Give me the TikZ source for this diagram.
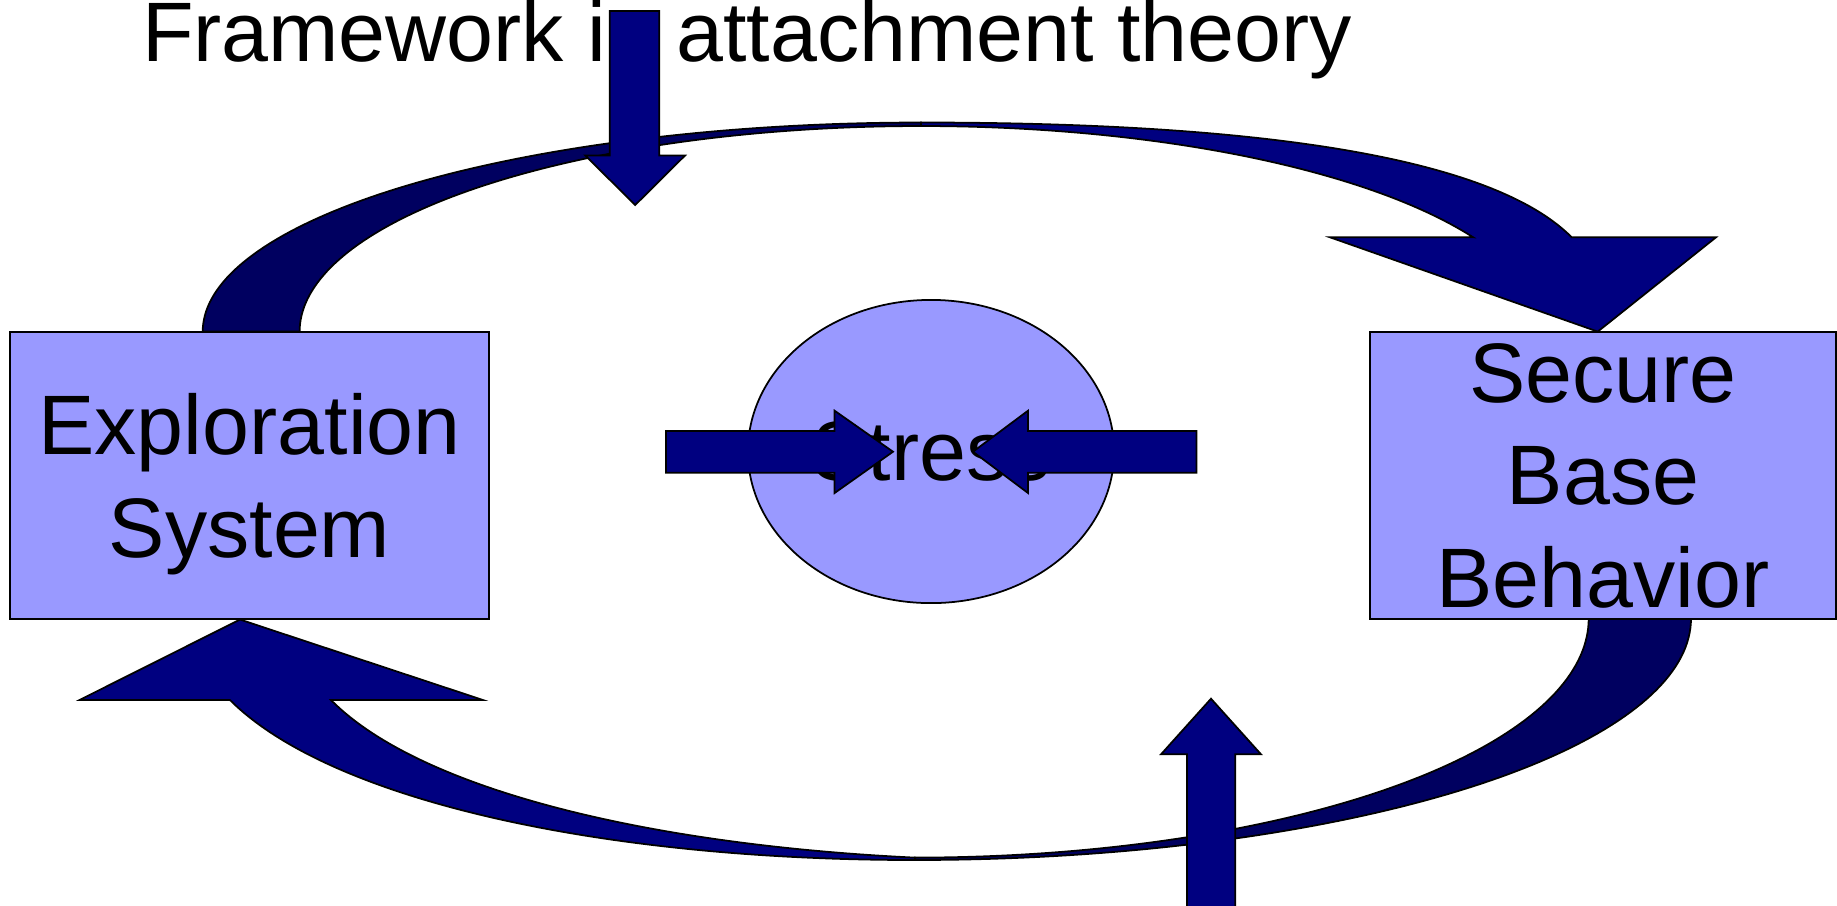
\documentclass[tikz,border=0pt]{standalone}
\usepackage{fontspec}
\setmainfont{Liberation Sans}
\usetikzlibrary{shapes.geometric}
\definecolor{boxfill}{HTML}{9999FF}
\definecolor{navyfront}{HTML}{000080}
\definecolor{navyback}{HTML}{000060}
\begin{document}
\begin{tikzpicture}[x=0.01cm,y=-0.01cm,
  bigfont/.style={font=\fontsize{24}{29.2}\selectfont},
  box/.style={bigfont, draw=black, line width=0.5pt, fill=boxfill, inner sep=0pt,
    align=center, text depth=0pt, minimum height=2.873cm},
  stressnode/.style={bigfont, ellipse, draw=black, line width=0.5pt, fill=boxfill,
    inner sep=0pt, text depth=0pt, minimum width=3.66cm, minimum height=3.03cm},
  blockarrow/.style={draw=black, line width=0.5pt, fill=navyfront},
  ribbonfront/.style={draw=black, line width=0.5pt, fill=navyfront},
  ribbonback/.style={draw=black, line width=0.5pt, fill=navyback}]
\useasboundingbox (0,0) rectangle (1837,905);
\clip (0,0) rectangle (1837,905);

% title
\node[bigfont, anchor=base west, inner sep=0pt] (title) at (141.3,61.5)
  {Framework in attachment theory};

% top curved arrow: back (tail) lobe
\filldraw[ribbonback]
  plot[domain=180:270,samples=80,variable=\t] ({921+718.3*cos(\t)},{331.6+209.1*sin(\t)})
  -- plot[domain=270:180,samples=80,variable=\t] ({921+621.4*cos(\t)},{331.6+205.6*sin(\t)})
  -- cycle;
% top curved arrow: front lobe with head
\filldraw[ribbonfront]
  (921,122.5) .. controls (1250,122.5) and (1490,155) .. (1571.7,237.3)
  -- (1716,237.3) -- (1597.7,331.6) -- (1330,237.3) -- (1473,237.3)
  -- plot[domain=332.7:270,samples=60,variable=\t] ({921+621.4*cos(\t)},{331.6+205.6*sin(\t)})
  -- cycle;

% bottom curved arrow: back (tail) lobe
\filldraw[ribbonback]
  plot[domain=0:90,samples=80,variable=\t] ({915+776*cos(\t)},{618.6+241.4*sin(\t)})
  -- plot[domain=90:0,samples=80,variable=\t] ({915+673.7*cos(\t)},{618.6+239*sin(\t)})
  -- cycle;
% bottom curved arrow: front lobe with head
\filldraw[ribbonfront]
  (915,860) .. controls (600,860) and (330,800) .. (230,700)
  -- (79.5,700) -- (240,619.5) -- (483,700) -- (331,700)
  .. controls (420,790) and (650,845) .. (915,857.6)
  -- cycle;

% boxes and ellipse
\node[box, minimum width=4.792cm] (expl) at (249.6,475.35) {Exploration\\System};
\node[box, minimum width=4.66cm] (sbb) at (1603,475.35) {Secure\\Base\\Behavior};
\node[stressnode] (stress) at (931,451.5) {Stress};

% straight block arrows
\filldraw[blockarrow] (609.8,11) -- (659.3,11) -- (659.3,155.5) -- (685,155.5) -- (635.2,205)
  -- (585.3,155.5) -- (609.8,155.5) -- cycle;
\filldraw[blockarrow] (1187,912) -- (1187,754.3) -- (1161,754.3) -- (1211,698.7)
  -- (1261,754.3) -- (1235.3,754.3) -- (1235.3,912) -- cycle;
\filldraw[blockarrow] (666,431) -- (834.6,431) -- (834.6,410.7) -- (893,451.7)
  -- (834.6,493) -- (834.6,472.7) -- (666,472.7) -- cycle;
\filldraw[blockarrow] (1196.4,431) -- (1028,431) -- (1028,410.7) -- (973,451.7)
  -- (1028,493) -- (1028,472.7) -- (1196.4,472.7) -- cycle;
\end{tikzpicture}
\end{document}
